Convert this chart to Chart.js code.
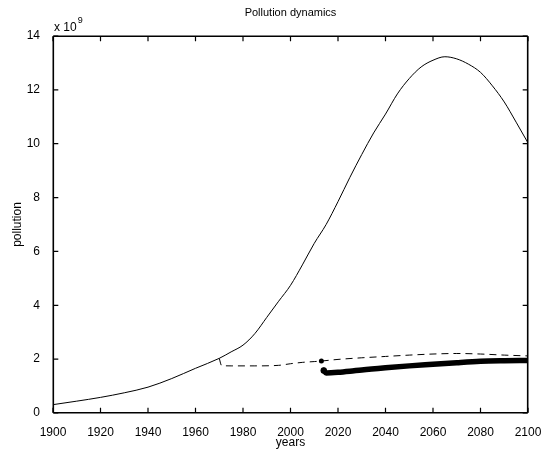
<!DOCTYPE html>
<html>
<head>
<meta charset="utf-8">
<script src="https://cdn.jsdelivr.net/npm/chart.js@4.4.1/dist/chart.umd.min.js"></script>
<style>
  html, body { margin: 0; padding: 0; background: #fff; }
  #wrap { width: 546px; height: 450px; }
</style>
</head>
<body>
<div id="wrap"><canvas id="chart" width="546" height="450"></canvas></div>
<script>
// values in units of 1e9 (axis multiplier "x 10^9")
const years = [1900, 1910, 1920, 1930, 1940, 1950, 1960, 1970, 1975, 1980, 1985, 1990, 1995,
  2000, 2005, 2010, 2015, 2020, 2025, 2030, 2035, 2040, 2045, 2050, 2055, 2060, 2065,
  2070, 2075, 2080, 2085, 2090, 2095, 2100];
const pollution = [0.31, 0.44, 0.58, 0.75, 0.96, 1.28, 1.66, 2.03, 2.27, 2.52, 2.95, 3.55, 4.15,
  4.74, 5.5, 6.3, 7.0, 7.85, 8.75, 9.6, 10.4, 11.1, 11.85, 12.42, 12.85, 13.1, 13.23,
  13.15, 12.95, 12.65, 12.15, 11.55, 10.8, 10.03];

const dashYears = [1970, 1971, 1975, 1985, 1995, 2000, 2005, 2010, 2013, 2020, 2030, 2040,
  2050, 2060, 2070, 2080, 2090, 2100];
const dashValues = [2.03, 1.76, 1.75, 1.75, 1.77, 1.83, 1.88, 1.91, 1.93, 1.99, 2.05, 2.1,
  2.15, 2.19, 2.21, 2.19, 2.15, 2.12];

const thickYears = [2014, 2015, 2020, 2025, 2030, 2040, 2050, 2060, 2070, 2080, 2090, 2100];
const thickValues = [1.58, 1.49, 1.51, 1.55, 1.6, 1.68, 1.75, 1.81, 1.87, 1.92, 1.94, 1.95];

const markYear = [2013];
const markValue = [1.93];

const xTicks = [1900, 1920, 1940, 1960, 1980, 2000, 2020, 2040, 2060, 2080, 2100];
const yTicks = [0, 2, 4, 6, 8, 10, 12, 14];

const FONT = "'Liberation Sans', Arial, Helvetica, sans-serif";

function pts(xs, ys) {
  return xs.map((x, i) => ({ x: x, y: ys[i] }));
}

// box, inward ticks on all four sides, title and multiplier
const matlabAxes = {
  id: "matlabAxes",
  afterDraw(chart) {
    const ctx = chart.ctx;
    const a = chart.chartArea;
    const sx = chart.scales.x;
    const sy = chart.scales.y;
    const t = 5;
    const L = a.left + 0.3, R = a.right - 0.3, T = a.top + 0.3, B = a.bottom - 0.3;
    ctx.save();
    ctx.globalAlpha = 1;
    ctx.setLineDash([]);
    ctx.strokeStyle = "#000000";
    ctx.lineWidth = 1.6;
    ctx.lineJoin = "miter";
    // each side drawn as its own short segments so it reads like the tick marks
    const sides = [[L, T, R, T], [R, T, R, B], [R, B, L, B], [L, B, L, T]];
    sides.forEach(([x1, y1, x2, y2]) => {
      ctx.beginPath();
      ctx.moveTo(x1, y1);
      ctx.lineTo(x2, y2);
      ctx.stroke();
    });

    ctx.lineWidth = 1.2;
    ctx.beginPath();
    xTicks.forEach((v) => {
      const px = sx.getPixelForValue(v);
      ctx.moveTo(px, B);
      ctx.lineTo(px, B - t);
      ctx.moveTo(px, T);
      ctx.lineTo(px, T + t);
    });
    yTicks.forEach((v) => {
      const py = sy.getPixelForValue(v);
      ctx.moveTo(L, py);
      ctx.lineTo(L + t, py);
      ctx.moveTo(R, py);
      ctx.lineTo(R - t, py);
    });
    ctx.stroke();

    ctx.fillStyle = "#000000";
    ctx.font = "11px " + FONT;
    ctx.textAlign = "center";
    ctx.textBaseline = "alphabetic";
    ctx.fillText("Pollution dynamics", (a.left + a.right) / 2, 16);

    ctx.textAlign = "left";
    ctx.font = "12px " + FONT;
    ctx.fillText("x 10", a.left + 1, a.top - 5);
    const w = ctx.measureText("x 10").width;
    ctx.font = "9px " + FONT;
    ctx.fillText("9", a.left + 1 + w + 1, a.top - 13);
    ctx.restore();
  }
};

new Chart(document.getElementById("chart"), {
  type: "line",
  data: {
    datasets: [
      {
        data: pts(years, pollution),
        borderColor: "#000",
        borderWidth: 1,
        pointRadius: 0,
        cubicInterpolationMode: "monotone"
      },
      {
        data: pts(dashYears, dashValues),
        borderColor: "#000",
        borderWidth: 1,
        borderDash: [7, 5],
        pointRadius: 0,
        cubicInterpolationMode: "monotone"
      },
      {
        data: pts(thickYears, thickValues),
        borderColor: "#000",
        borderWidth: 5.5,
        borderCapStyle: "round",
        pointRadius: [3.2, 0, 0, 0, 0, 0, 0, 0, 0, 0, 0, 0],
        pointBackgroundColor: "#000",
        pointBorderWidth: 0,
        cubicInterpolationMode: "monotone"
      },
      {
        data: pts(markYear, markValue),
        showLine: false,
        pointRadius: 2.5,
        pointBackgroundColor: "#000",
        pointBorderWidth: 0
      }
    ]
  },
  options: {
    responsive: false,
    animation: false,
    layout: { padding: { left: 0, right: 18, top: 36, bottom: 0 } },
    plugins: {
      legend: { display: false },
      tooltip: { enabled: false },
      title: { display: false }
    },
    scales: {
      x: {
        type: "linear",
        min: 1900,
        max: 2100,
        afterBuildTicks: (s) => { s.ticks = xTicks.map((v) => ({ value: v })); },
        afterFit: (s) => { s.height = 37; },
        ticks: { color: "#000", font: { family: FONT, size: 12 }, padding: 4, maxRotation: 0,
          callback: (v) => String(v) },
        grid: { display: false },
        border: { display: false },
        title: { display: true, text: "years", color: "#000", font: { family: FONT, size: 12 }, padding: { top: 0, bottom: 0 } }
      },
      y: {
        min: 0,
        max: 14,
        afterBuildTicks: (s) => { s.ticks = yTicks.map((v) => ({ value: v })); },
        afterFit: (s) => { s.width = 53; },
        ticks: { color: "#000", font: { family: FONT, size: 12 }, padding: 5,
          callback: (v) => String(v) },
        grid: { display: false },
        border: { display: false },
        title: { display: true, text: "pollution", color: "#000", font: { family: FONT, size: 12 }, padding: { top: 10, bottom: 0 } }
      }
    }
  },
  plugins: [matlabAxes]
});
</script>
</body>
</html>
